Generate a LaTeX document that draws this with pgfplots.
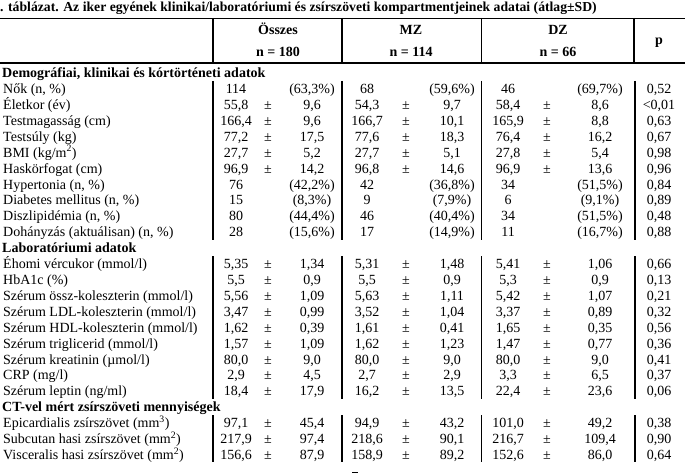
\documentclass[border=0pt]{standalone}
\usepackage{pgfplots}
\pgfplotsset{compat=1.18}
\usepackage{fontspec}
\setmainfont{Liberation Serif}
\newcommand{\fs}{\fontsize{14bp}{16bp}\selectfont}
\begin{document}
\begin{tikzpicture}
\begin{axis}[
  width=685bp, height=473bp, scale only axis,
  xmin=0, xmax=685, ymin=0, ymax=473, y dir=reverse,
  hide axis, clip=false,
  txt/.style={draw=none, mark=none, forget plot,
    nodes near coords={\pgfplotspointmeta},
    point meta=explicit symbolic,
    nodes near coords align={anchor=#1},
    every node near coord/.append style={font=\fs, inner sep=0pt, text=black}},
  btxt/.style={txt=#1, every node near coord/.append style={font=\fs\bfseries}},
  rule/.style={black, line width=#1, mark=none, forget plot},
]
% ---- title
\addplot[btxt=base west, every node near coord/.append style={font=\fontsize{13.7bp}{16bp}\selectfont\bfseries}] coordinates {(0,11.5) [. táblázat. Az iker egyének klinikai/laboratóriumi és zsírszöveti kompartmentjeinek adatai (átlag±SD)]};
% ---- header rules
\addplot[rule=0.9bp] coordinates {(0,18) (685,18)};
\addplot[rule=2.5bp] coordinates {(0,63) (685,63)};
\addplot[rule=2.2bp] coordinates {(213,18) (213,63)};
\addplot[rule=1.2bp] coordinates {(342,18) (342,63)};
\addplot[rule=0.9bp] coordinates {(481,18) (481,63)};
\addplot[rule=2.2bp] coordinates {(634,18) (634,63)};
% ---- header text
\addplot[btxt=base] coordinates {(278,35) [Összes] (411,35) [MZ] (558,35) [DZ]};
\addplot[btxt=base] coordinates {(278,57) [n = 180] (411,57) [n = 114] (558,57) [n = 66]};
\addplot[btxt=base] coordinates {(659,45) [p]};
% ---- section headers
\addplot[btxt=base west] coordinates {(2,77.6) [Demográfiai, klinikai és kórtörténeti adatok] (2,252.6) [Laboratóriumi adatok] (2,411.7) [CT-vel mért zsírszöveti mennyiségek]};
% ---- row labels
\addplot[txt=base west] coordinates {
(3,93.5) [Nők (n, \%)]
(3,109.4) [Életkor (év)]
(3,125.3) [Testmagasság (cm)]
(3,141.2) [Testsúly (kg)]
(3,157.1) [BMI (kg/m\textsuperscript{2})]
(3,173.1) [Haskörfogat (cm)]
(3,189.0) [Hypertonia (n, \%)]
(3,204.9) [Diabetes mellitus (n, \%)]
(3,220.8) [Diszlipidémia (n, \%)]
(3,236.7) [Dohányzás (aktuálisan) (n, \%)]
(3,268.5) [Éhomi vércukor (mmol/l)]
(3,284.4) [HbA1c (\%)]
(3,300.3) [Szérum össz-koleszterin (mmol/l)]
(3,316.2) [Szérum LDL-koleszterin (mmol/l)]
(3,332.2) [Szérum HDL-koleszterin (mmol/l)]
(3,348.1) [Szérum triglicerid (mmol/l)]
(3,364.0) [Szérum kreatinin (µmol/l)]
(3,379.9) [CRP (mg/l)]
(3,395.8) [Szérum leptin (ng/ml)]
(3,427.6) [Epicardialis zsírszövet (mm\textsuperscript{3})]
(3,443.5) [Subcutan hasi zsírszövet (mm\textsuperscript{2})]
(3,459.4) [Visceralis hasi zsírszövet (mm\textsuperscript{2})]
};
% ---- Összes values
\addplot[txt=base] coordinates {
(236,93.5) [114] (236,109.4) [55,8] (236,125.3) [166,4] (236,141.2) [77,2]
(236,157.1) [27,7] (236,173.1) [96,9] (236,189.0) [76] (236,204.9) [15]
(236,220.8) [80] (236,236.7) [28]
(236,268.5) [5,35] (236,284.4) [5,5] (236,300.3) [5,56] (236,316.2) [3,47]
(236,332.2) [1,62] (236,348.1) [1,57] (236,364.0) [80,0] (236,379.9) [2,9]
(236,395.8) [18,4]
(236,427.6) [97,1] (236,443.5) [217,9] (236,459.4) [156,6]
};
\addplot[txt=base] coordinates {
(312,93.5) [(63,3\%)] (312,109.4) [9,6] (312,125.3) [9,6] (312,141.2) [17,5]
(312,157.1) [5,2] (312,173.1) [14,2] (312,189.0) [(42,2\%)] (312,204.9) [(8,3\%)]
(312,220.8) [(44,4\%)] (312,236.7) [(15,6\%)]
(312,268.5) [1,34] (312,284.4) [0,9] (312,300.3) [1,09] (312,316.2) [0,99]
(312,332.2) [0,39] (312,348.1) [1,09] (312,364.0) [9,0] (312,379.9) [4,5]
(312,395.8) [17,9]
(312,427.6) [45,4] (312,443.5) [97,4] (312,459.4) [87,9]
};
% ---- MZ values
\addplot[txt=base] coordinates {
(367,93.5) [68] (367,109.4) [54,3] (367,125.3) [166,7] (367,141.2) [77,6]
(367,157.1) [27,7] (367,173.1) [96,8] (367,189.0) [42] (367,204.9) [9]
(367,220.8) [46] (367,236.7) [17]
(367,268.5) [5,31] (367,284.4) [5,5] (367,300.3) [5,63] (367,316.2) [3,52]
(367,332.2) [1,61] (367,348.1) [1,62] (367,364.0) [80,0] (367,379.9) [2,7]
(367,395.8) [16,2]
(367,427.6) [94,9] (367,443.5) [218,6] (367,459.4) [158,9]
};
\addplot[txt=base] coordinates {
(452,93.5) [(59,6\%)] (452,109.4) [9,7] (452,125.3) [10,1] (452,141.2) [18,3]
(452,157.1) [5,1] (452,173.1) [14,6] (452,189.0) [(36,8\%)] (452,204.9) [(7,9\%)]
(452,220.8) [(40,4\%)] (452,236.7) [(14,9\%)]
(452,268.5) [1,48] (452,284.4) [0,9] (452,300.3) [1,11] (452,316.2) [1,04]
(452,332.2) [0,41] (452,348.1) [1,23] (452,364.0) [9,0] (452,379.9) [2,9]
(452,395.8) [13,5]
(452,427.6) [43,2] (452,443.5) [90,1] (452,459.4) [89,2]
};
% ---- DZ values
\addplot[txt=base] coordinates {
(508,93.5) [46] (508,109.4) [58,4] (508,125.3) [165,9] (508,141.2) [76,4]
(508,157.1) [27,8] (508,173.1) [96,9] (508,189.0) [34] (508,204.9) [6]
(508,220.8) [34] (508,236.7) [11]
(508,268.5) [5,41] (508,284.4) [5,3] (508,300.3) [5,42] (508,316.2) [3,37]
(508,332.2) [1,65] (508,348.1) [1,47] (508,364.0) [80,0] (508,379.9) [3,3]
(508,395.8) [22,4]
(508,427.6) [101,0] (508,443.5) [216,7] (508,459.4) [152,6]
};
\addplot[txt=base] coordinates {
(600,93.5) [(69,7\%)] (600,109.4) [8,6] (600,125.3) [8,8] (600,141.2) [16,2]
(600,157.1) [5,4] (600,173.1) [13,6] (600,189.0) [(51,5\%)] (600,204.9) [(9,1\%)]
(600,220.8) [(51,5\%)] (600,236.7) [(16,7\%)]
(600,268.5) [1,06] (600,284.4) [0,9] (600,300.3) [1,07] (600,316.2) [0,89]
(600,332.2) [0,35] (600,348.1) [0,77] (600,364.0) [9,0] (600,379.9) [6,5]
(600,395.8) [23,6]
(600,427.6) [49,2] (600,443.5) [109,4] (600,459.4) [86,0]
};
% ---- p values
\addplot[txt=base] coordinates {
(659,93.5) [0,52] (659,109.4) [<0,01] (659,125.3) [0,63] (659,141.2) [0,67]
(659,157.1) [0,98] (659,173.1) [0,96] (659,189.0) [0,84] (659,204.9) [0,89]
(659,220.8) [0,48] (659,236.7) [0,88]
(659,268.5) [0,66] (659,284.4) [0,13] (659,300.3) [0,21] (659,316.2) [0,32]
(659,332.2) [0,56] (659,348.1) [0,36] (659,364.0) [0,41] (659,379.9) [0,37]
(659,395.8) [0,06]
(659,427.6) [0,38] (659,443.5) [0,90] (659,459.4) [0,64]
};
% ---- plus-minus signs
\addplot[txt=base] coordinates {
(268,109.4) [±] (268,125.3) [±] (268,141.2) [±] (268,157.1) [±] (268,173.1) [±]
(268,268.5) [±] (268,284.4) [±] (268,300.3) [±] (268,316.2) [±] (268,332.2) [±]
(268,348.1) [±] (268,364.0) [±] (268,379.9) [±] (268,395.8) [±]
(268,427.6) [±] (268,443.5) [±] (268,459.4) [±]
(406,109.4) [±] (406,125.3) [±] (406,141.2) [±] (406,157.1) [±] (406,173.1) [±]
(406,268.5) [±] (406,284.4) [±] (406,300.3) [±] (406,316.2) [±] (406,332.2) [±]
(406,348.1) [±] (406,364.0) [±] (406,379.9) [±] (406,395.8) [±]
(406,427.6) [±] (406,443.5) [±] (406,459.4) [±]
(547,109.4) [±] (547,125.3) [±] (547,141.2) [±] (547,157.1) [±] (547,173.1) [±]
(547,268.5) [±] (547,284.4) [±] (547,300.3) [±] (547,316.2) [±] (547,332.2) [±]
(547,348.1) [±] (547,364.0) [±] (547,379.9) [±] (547,395.8) [±]
(547,427.6) [±] (547,443.5) [±] (547,459.4) [±]
};
% ---- body vertical rules
\addplot[rule=2.2bp] coordinates {(213,81) (213,240)};
\addplot[rule=2.2bp] coordinates {(213,256) (213,399)};
\addplot[rule=2.2bp] coordinates {(213,415) (213,462)};
\addplot[rule=2.2bp] coordinates {(342,81) (342,240)};
\addplot[rule=2.2bp] coordinates {(342,256) (342,399)};
\addplot[rule=2.2bp] coordinates {(342,415) (342,462)};
\addplot[rule=0.9bp] coordinates {(481,81) (481,240)};
\addplot[rule=0.9bp] coordinates {(481,256) (481,399)};
\addplot[rule=0.9bp] coordinates {(481,415) (481,462)};
\addplot[rule=2.2bp] coordinates {(635,81) (635,240)};
\addplot[rule=2.2bp] coordinates {(635,256) (635,399)};
\addplot[rule=2.2bp] coordinates {(635,415) (635,462)};
% ---- page fragment at bottom
\addplot[rule=0.8bp] coordinates {(352,472) (358,472)};
\end{axis}
\pgfresetboundingbox
\path (current axis.south west) rectangle (current axis.north east);
\end{tikzpicture}
\end{document}
